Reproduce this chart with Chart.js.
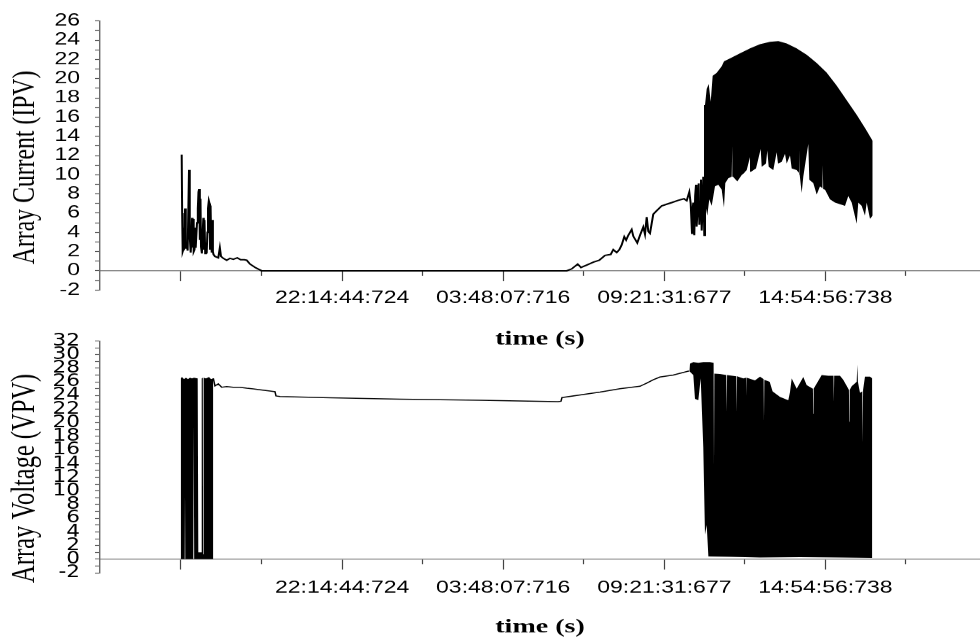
<!DOCTYPE html>
<html>
<head>
<meta charset="utf-8">
<title>PV array current and voltage</title>
<script src="https://cdn.jsdelivr.net/npm/chart.js@4.4.1/dist/chart.umd.min.js"></script>
<style>
  html, body { margin: 0; padding: 0; background: #fff; width: 980px; height: 637px; overflow: hidden; }
  body { position: relative; }
  canvas { position: absolute; left: 0; transform-origin: 0 0; }
</style>
</head>
<body>
<canvas id="ipvChart"></canvas>
<canvas id="vpvChart"></canvas>
<script>
// x values are hours elapsed since the first tick of the log (16:41:21); one tick = 10 000 s
const HOURS_PER_TICK = 10000 / 3600;
const xRange = [-2.793, 27.552];
const majorTickIndex = [0, 2, 4, 6, 8];
const minorTickIndex = [1, 3, 5, 7, 9];
const majorTickLabels = ['', '22:14:44:724', '03:48:07:716', '09:21:31:677', '14:54:56:738'];

// ---- Array current (A) ----
// single trace: [hours, amps]
const ipvTrace = [
  [0.024, 12.1], [0.040, 6.0], [0.058, 2.0], [0.079, 2.2], [0.100, 4.5], [0.121, 2.4],
  [0.140, 6.5], [0.165, 2.3], [0.190, 3.0], [0.230, 2.1], [0.276, 10.5], [0.295, 7.0],
  [0.310, 3.5], [0.335, 1.9], [0.355, 3.0], [0.380, 5.5], [0.397, 2.4], [0.420, 5.4],
  [0.438, 2.0], [0.466, 2.2], [0.490, 4.5], [0.507, 2.4], [0.552, 5.0], [0.580, 6.5],
  [0.603, 8.2], [0.625, 8.5], [0.650, 3.2], [0.672, 7.5], [0.690, 2.5], [0.720, 1.8],
  [0.748, 4.0], [0.770, 5.5], [0.786, 2.2], [0.810, 5.3], [0.835, 1.8], [0.860, 2.6],
  [0.886, 1.8], [0.910, 4.0], [0.931, 6.5], [0.960, 7.3], [0.985, 7.0], [1.000, 2.2],
  [1.020, 6.8], [1.041, 3.0], [1.060, 1.9], [1.080, 5.3], [1.100, 2.0], [1.121, 1.7],
  [1.172, 1.5], [1.286, 1.35], [1.340, 2.4], [1.379, 1.5], [1.459, 1.3], [1.576, 1.1],
  [1.690, 1.3], [1.803, 1.2], [1.941, 1.35], [2.059, 1.15], [2.183, 1.15], [2.266, 1.1],
  [2.379, 0.7], [2.552, 0.35], [2.783, 0],
  [13.300, 0], [13.472, 0.2], [13.679, 0.7], [13.793, 0.35], [13.990, 0.6], [14.217, 0.9],
  [14.424, 1.1], [14.621, 1.6], [14.817, 1.7], [14.907, 2.2], [15.024, 1.9], [15.114, 2.2],
  [15.197, 2.7], [15.286, 3.55], [15.350, 3.2], [15.424, 3.7], [15.541, 4.3], [15.597, 3.6],
  [15.734, 2.9], [15.828, 3.7], [15.941, 4.56], [16.000, 3.8], [16.059, 5.6], [16.114, 4.1],
  [16.172, 3.9], [16.286, 5.9], [16.403, 6.26], [16.576, 6.76], [16.748, 6.93], [16.921, 7.1],
  [17.148, 7.34], [17.345, 7.5], [17.438, 7.3], [17.528, 8.2], [17.576, 7.0], [17.621, 3.9],
  [17.645, 6.5], [17.666, 7.1], [17.700, 3.7], [17.730, 7.8], [17.759, 8.96], [17.780, 4.6],
  [17.803, 5.75], [17.830, 8.6], [17.852, 9.1], [17.875, 4.8], [17.897, 6.4], [17.931, 9.5],
  [17.955, 4.2], [17.976, 5.75], [18.010, 9.8], [18.045, 3.7], [18.069, 17.25]
];
// switching period: the trace swings between these two envelopes
const ipvBandUpper = [
  [18.069, 17.25], [18.128, 18.94], [18.197, 19.45], [18.266, 17.6], [18.334, 20.3],
  [18.472, 20.6], [18.645, 21.3], [18.724, 21.8], [18.931, 22.1], [19.276, 22.65],
  [19.621, 23.16], [19.966, 23.6], [20.310, 23.84], [20.597, 23.91], [20.886, 23.67],
  [21.231, 23.16], [21.576, 22.49], [21.921, 21.64], [22.266, 20.63], [22.610, 19.28],
  [22.955, 17.75], [23.300, 16.23], [23.586, 14.88], [23.852, 13.52]
];
const ipvBandLower = [
  [18.069, 7.10], [18.148, 5.75], [18.217, 7.44], [18.300, 6.76], [18.414, 8.79],
  [18.528, 8.96], [18.645, 8.45], [18.724, 6.59], [18.769, 9.13], [18.872, 9.63],
  [18.990, 9.8], [19.010, 13.02], [19.034, 9.8], [19.183, 9.3], [19.334, 9.97],
  [19.420, 10.2], [19.432, 12.4], [19.444, 10.3],
  [19.507, 10.48], [19.621, 11.83], [19.655, 10.31], [19.828, 10.65], [19.990, 12.68],
  [20.024, 10.82], [20.172, 11.16], [20.217, 12.51], [20.266, 10.82], [20.424, 10.48],
  [20.541, 12.34], [20.586, 11.16], [20.714, 11.33], [20.828, 12.17], [20.886, 11.16],
  [21.000, 12.0], [21.059, 10.65], [21.231, 10.48], [21.310, 10.2], [21.322, 12.6],
  [21.334, 10.0], [21.403, 8.11], [21.459, 9.8],
  [21.631, 13.19], [21.666, 9.47], [21.803, 9.13], [21.921, 7.94], [22.034, 8.79],
  [22.120, 8.6], [22.132, 11.0], [22.144, 8.5],
  [22.207, 8.45], [22.379, 7.44], [22.552, 7.1], [22.724, 6.93], [22.897, 6.76],
  [23.010, 7.78], [23.128, 7.1], [23.300, 4.9], [23.355, 7.1], [23.472, 6.76],
  [23.586, 5.75], [23.645, 7.1], [23.759, 5.41], [23.852, 5.75]
];

// ---- Array voltage (V) ----
const vpvStartUpper = [
  [-0.010, 26.5], [0.034, 26.7], [0.103, 26.4], [0.172, 26.6], [0.241, 26.4], [0.310, 26.6],
  [0.379, 26.5], [0.448, 26.6], [0.576, 26.5], [0.597, 1.0], [0.700, 1.0], [0.714, 26.5],
  [0.752, 26.6], [0.762, 0.7], [0.776, 0.7], [0.786, 26.6], [0.862, 26.5], [0.966, 26.7],
  [1.034, 26.4], [1.114, 26.5]
];
const vpvStartLower = [
  [-0.010, 0], [0.128, 0], [0.138, 9.74], [0.148, 0], [0.424, 0], [0.438, 19.7],
  [0.455, 0], [0.907, 0], [0.921, 12.6], [0.931, 0], [1.114, 0]
];
const vpvTrace = [
  [1.114, 26.5], [1.172, 25.4], [1.286, 25.7], [1.403, 25.2], [1.576, 25.3], [1.803, 25.2],
  [2.034, 25.2], [2.266, 25.07], [2.493, 24.97], [2.724, 24.83], [3.069, 24.64], [3.241, 24.55],
  [3.276, 23.93], [3.414, 23.84], [5.138, 23.65], [7.552, 23.45], [10.310, 23.3], [13.000, 23.1],
  [13.103, 23.15], [13.138, 23.7], [14.448, 24.5], [15.138, 25.0], [15.828, 25.35], [16.059, 25.8],
  [16.286, 26.3], [16.517, 26.7], [16.976, 27.0], [17.493, 27.57], [17.528, 27.57]
];
const vpvBandUpper = [
  [17.528, 27.57], [17.552, 28.66], [17.666, 28.9], [17.838, 28.8], [18.010, 28.9],
  [18.241, 28.9], [18.366, 28.8], [18.379, 13.77], [18.392, 27.2], [18.586, 27.15],
  [18.803, 27.0], [18.817, 21.57], [18.831, 27.0], [19.150, 26.8], [19.162, 21.57],
  [19.175, 26.8], [19.390, 26.5], [19.490, 26.6], [19.500, 24.0], [19.510, 26.6],
  [19.793, 26.2], [19.966, 26.77], [20.090, 26.4], [20.103, 20.15], [20.116, 26.3],
  [20.300, 26.0], [20.400, 24.6], [20.655, 23.8], [20.941, 23.3], [21.000, 24.5],
  [21.059, 26.5], [21.231, 25.0], [21.459, 26.7], [21.576, 25.5], [21.790, 25.0],
  [21.803, 21.33], [21.816, 25.0], [22.093, 27.0], [22.321, 26.9], [22.500, 26.9],
  [22.512, 23.0], [22.524, 26.9], [22.724, 26.9], [22.838, 26.3], [23.010, 25.0],
  [23.032, 24.8], [23.045, 20.15], [23.058, 24.8], [23.128, 25.35], [23.300, 26.0],
  [23.321, 28.52], [23.342, 26.0], [23.414, 24.4], [23.494, 24.6], [23.507, 17.07],
  [23.520, 24.8], [23.586, 26.77], [23.759, 26.77], [23.838, 26.5]
];
const vpvBandLower = [
  [17.528, 27.57], [17.666, 27.0], [17.724, 23.5], [17.838, 23.3], [17.921, 26.5],
  [18.010, 16.4], [18.069, 3.6], [18.128, 5.0], [18.186, 0.4], [18.931, 0.35],
  [19.966, 0.25], [21.345, 0.3], [22.724, 0.25], [23.838, 0.2]
];

const SANS = "'Liberation Sans', Arial, sans-serif";
const SANS_NARROW = "'Liberation Sans Narrow', 'DejaVu Sans Condensed', 'Liberation Sans', sans-serif";
const SERIF = "'Liberation Serif', 'Times New Roman', serif";
const toXY = pairs => pairs.map(([x, y]) => ({ x, y }));

function bandPair(upper, lower) {
  return [
    { data: toXY(upper), borderWidth: 0, pointRadius: 0, fill: '+1', backgroundColor: '#000', tension: 0 },
    { data: toXY(lower), borderWidth: 0, pointRadius: 0, fill: false, backgroundColor: '#000', tension: 0 }
  ];
}
function traceSet(pairs, width) {
  return { data: toXY(pairs), borderColor: '#000', borderWidth: width, pointRadius: 0, fill: false, tension: 0 };
}

// Each panel is laid out on a taller canvas and compressed vertically by `squash`,
// which gives the flattened lettering of the printed figure.
function drawPanel(id, p) {
  const k = p.squash;
  const canvas = document.getElementById(id);
  const H = Math.round(p.heightPx / k);
  canvas.width = 980;
  canvas.height = H;
  canvas.style.width = '980px';
  canvas.style.height = H + 'px';
  canvas.style.top = p.topPx + 'px';
  canvas.style.transform = 'scaleY(' + k + ')';

  const areaTop = p.areaTop / k;
  const areaBottom = p.areaBottom / k;
  const zeroPx = areaTop + (p.yMax / (p.yMax - p.yMin)) * (areaBottom - areaTop);
  const majorLen = 10 / k, minorLen = 5 / k;
  const xTickFont = 23, xTitleFont = 28;
  const labelPad = p.labelMid / k - zeroPx - majorLen - xTickFont * 0.6;
  const xBoxHeight = p.titleMid / k - zeroPx + xTitleFont * 0.6;

  const yTicks = [];
  for (let v = p.yMin; v <= p.yMax; v++) yTicks.push(v);

  new Chart(canvas, {
    type: 'line',
    data: { datasets: p.datasets },
    options: {
      responsive: false,
      animation: false,
      devicePixelRatio: 1,
      events: [],
      layout: { padding: { left: 0, right: 0, top: areaTop, bottom: H - areaBottom } },
      plugins: { legend: { display: false }, tooltip: { enabled: false } },
      scales: {
        x: {
          type: 'linear', min: xRange[0], max: xRange[1],
          position: { y: 0 },
          afterBuildTicks: ax => { ax.ticks = majorTickIndex.map(i => ({ value: i * HOURS_PER_TICK })); },
          afterFit: ax => { ax.height = xBoxHeight; },
          grid: { drawOnChartArea: false, tickLength: majorLen, tickColor: '#444', tickWidth: 1.2 },
          border: { color: '#8a8a8a', width: 1.4 },
          ticks: {
            autoSkip: false, maxRotation: 0, padding: labelPad, color: '#000',
            font: { family: SANS, size: xTickFont },
            callback: (v, i) => majorTickLabels[i]
          },
          title: { display: true, text: 'time (s)', color: '#000', padding: 0,
                   font: { family: SERIF, size: xTitleFont, weight: 'bold' } }
        },
        xMinor: {
          type: 'linear', axis: 'x', min: xRange[0], max: xRange[1],
          position: { y: 0 },
          afterBuildTicks: ax => { ax.ticks = minorTickIndex.map(i => ({ value: i * HOURS_PER_TICK })); },
          grid: { drawOnChartArea: false, tickLength: minorLen, tickColor: '#444', tickWidth: 1.2 },
          border: { display: false },
          ticks: { autoSkip: false, maxRotation: 0, callback: () => '' }
        },
        y: {
          type: 'linear', min: p.yMin, max: p.yMax, position: 'left',
          afterBuildTicks: ax => { ax.ticks = yTicks.map(v => ({ value: v })); },
          afterFit: ax => { ax.width = 100; },
          grid: { drawOnChartArea: false, tickLength: 5, tickColor: '#555', tickWidth: 1.2 },
          border: { color: '#6a6a6a', width: 1.4 },
          ticks: {
            autoSkip: false, padding: 15, color: '#000',
            font: { family: p.yTickFamily, size: p.yTickFont },
            callback: v => (v % 2 === 0 ? String(v) : '')
          },
          title: {
            display: true, text: p.yTitle, color: '#000',
            padding: { top: p.yTitlePad, bottom: 0 },
            font: { family: SERIF, size: p.yTitleFont }
          }
        }
      }
    }
  });
}

// trailing spaces nudge each rotated title down so it is centred on the axis plus its tick labels
drawPanel('ipvChart', {
  squash: 0.73, topPx: 0, heightPx: 365,
  areaTop: 14, areaBottom: 290, labelMid: 298, titleMid: 339,
  yMin: -2, yMax: 26, yTickFont: 23, yTickFamily: SANS,
  yTitle: 'Array Current (IPV)    ', yTitleFont: 32.5, yTitlePad: 5.5,
  datasets: [...bandPair(ipvBandUpper, ipvBandLower), traceSet(ipvTrace, 2.0)]
});

drawPanel('vpvChart', {
  squash: 0.71, topPx: 320, heightPx: 317,
  areaTop: 13, areaBottom: 252.8, labelMid: 268, titleMid: 307,
  yMin: -2, yMax: 32, yTickFont: 24, yTickFamily: SANS_NARROW,
  yTitle: 'Array Voltage (VPV)       ', yTitleFont: 34.5, yTitlePad: 4.3,
  datasets: [
    ...bandPair(vpvStartUpper, vpvStartLower),
    ...bandPair(vpvBandUpper, vpvBandLower),
    traceSet(vpvTrace, 1.5)
  ]
});
</script>
</body>
</html>
